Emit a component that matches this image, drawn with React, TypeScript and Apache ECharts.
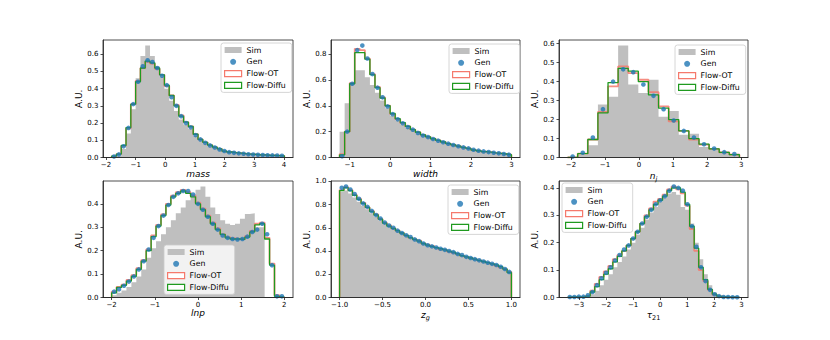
import React, { useEffect, useRef } from 'react';
import * as echarts from 'echarts';

const FONT = 'DejaVu Sans';

// ---- mass ----
const massBinStart = -1.81;
const massBinWidth = 0.1617;
const massSim = [0.005, 0.012, 0.05, 0.14, 0.28, 0.46, 0.59, 0.65, 0.59, 0.53, 0.47, 0.40, 0.33, 0.27, 0.22, 0.19, 0.165, 0.125, 0.1, 0.082, 0.066, 0.055, 0.045, 0.035, 0.03, 0.026, 0.023, 0.021, 0.019, 0.017, 0.015, 0.014, 0.012, 0.011, 0.01, 0.009];
const massGen = [0.006, 0.018, 0.065, 0.172, 0.31, 0.44, 0.53, 0.565, 0.555, 0.52, 0.475, 0.42, 0.35, 0.30, 0.24, 0.20, 0.175, 0.13, 0.105, 0.085, 0.07, 0.058, 0.047, 0.038, 0.031, 0.027, 0.024, 0.022, 0.019, 0.017, 0.016, 0.014, 0.013, 0.012, 0.011, 0.01];
const massOT = [0.007, 0.02, 0.068, 0.17, 0.31, 0.445, 0.52, 0.555, 0.545, 0.515, 0.48, 0.415, 0.36, 0.305, 0.245, 0.205, 0.18, 0.135, 0.105, 0.088, 0.072, 0.06, 0.05, 0.037, 0.032, 0.028, 0.025, 0.022, 0.02, 0.018, 0.016, 0.015, 0.013, 0.012, 0.011, 0.01];
const massDiffu = [0.008, 0.02, 0.07, 0.174, 0.31, 0.44, 0.52, 0.56, 0.55, 0.52, 0.48, 0.42, 0.36, 0.30, 0.24, 0.205, 0.18, 0.135, 0.105, 0.088, 0.072, 0.06, 0.05, 0.037, 0.032, 0.028, 0.025, 0.022, 0.02, 0.018, 0.016, 0.015, 0.013, 0.012, 0.011, 0.01];
const massXTicks = [-2, -1, 0, 1, 2, 3, 4];
const massYTicks = [0, 0.1, 0.2, 0.3, 0.4, 0.5, 0.6];

// ---- width ----
const widthBinStart = -1.25;
const widthBinWidth = 0.125;
const widthSim = [0.2, 0.42, 0.58, 0.675, 0.675, 0.62, 0.56, 0.50, 0.44, 0.38, 0.32, 0.285, 0.255, 0.228, 0.205, 0.185, 0.168, 0.152, 0.138, 0.126, 0.114, 0.103, 0.093, 0.084, 0.075, 0.067, 0.057, 0.05, 0.044, 0.039, 0.034, 0.03, 0.025, 0.02];
const widthGen = [0.01, 0.20, 0.57, 0.83, 0.865, 0.765, 0.645, 0.54, 0.465, 0.395, 0.335, 0.295, 0.265, 0.235, 0.215, 0.19, 0.17, 0.158, 0.143, 0.13, 0.118, 0.107, 0.097, 0.087, 0.078, 0.07, 0.06, 0.053, 0.047, 0.042, 0.037, 0.032, 0.027, 0.022];
const widthOT = [0.025, 0.20, 0.575, 0.84, 0.83, 0.765, 0.645, 0.545, 0.465, 0.40, 0.335, 0.295, 0.265, 0.24, 0.215, 0.195, 0.175, 0.16, 0.145, 0.133, 0.12, 0.108, 0.097, 0.088, 0.078, 0.07, 0.058, 0.052, 0.046, 0.041, 0.036, 0.032, 0.027, 0.022];
const widthDiffu = [0.02, 0.20, 0.57, 0.81, 0.81, 0.76, 0.64, 0.54, 0.46, 0.40, 0.34, 0.30, 0.27, 0.24, 0.215, 0.195, 0.175, 0.16, 0.145, 0.133, 0.12, 0.108, 0.097, 0.088, 0.078, 0.07, 0.058, 0.052, 0.046, 0.041, 0.036, 0.032, 0.027, 0.022];
const widthXTicks = [-1, 0, 1, 2, 3];
const widthYTicks = [0, 0.2, 0.4, 0.6, 0.8];

// ---- n_j ----
const njBinStart = -2.1;
const njBinWidth = 0.297;
const njSim = [0.0, 0.015, 0.065, 0.28, 0.32, 0.59, 0.385, 0.34, 0.41, 0.215, 0.245, 0.12, 0.125, 0.055, 0.05, 0.03, 0.02];
const njGen = [0.005, 0.025, 0.105, 0.255, 0.40, 0.465, 0.45, 0.385, 0.325, 0.255, 0.195, 0.14, 0.105, 0.07, 0.047, 0.028, 0.018];
const njOT = [0.002, 0.02, 0.095, 0.24, 0.375, 0.48, 0.445, 0.41, 0.345, 0.27, 0.19, 0.14, 0.095, 0.068, 0.045, 0.027, 0.015];
const njDiffu = [0.002, 0.02, 0.095, 0.235, 0.395, 0.47, 0.455, 0.40, 0.33, 0.26, 0.20, 0.14, 0.10, 0.07, 0.045, 0.027, 0.015];
const njXTicks = [-2, -1, 0, 1, 2, 3];
const njYTicks = [0, 0.1, 0.2, 0.3, 0.4, 0.5, 0.6];

// ---- lnp ----
const lnpBinStart = -2.0;
const lnpBinWidth = 0.11429;
const lnpSim = [0.01, 0.02, 0.03, 0.045, 0.065, 0.09, 0.12, 0.17, 0.21, 0.24, 0.27, 0.30, 0.33, 0.36, 0.385, 0.415, 0.44, 0.46, 0.474, 0.43, 0.385, 0.357, 0.33, 0.315, 0.31, 0.315, 0.336, 0.357, 0.36, 0.30, 0.30, 0, 0, 0, 0];
const lnpGen = [0.025, 0.035, 0.05, 0.068, 0.09, 0.12, 0.155, 0.205, 0.255, 0.305, 0.35, 0.395, 0.43, 0.445, 0.455, 0.455, 0.44, 0.40, 0.375, 0.345, 0.315, 0.29, 0.265, 0.255, 0.25, 0.248, 0.25, 0.26, 0.28, 0.29, 0.315, 0.27, 0.138, 0.005, 0.005];
const lnpOT = [0.025, 0.045, 0.055, 0.075, 0.095, 0.125, 0.16, 0.205, 0.265, 0.31, 0.355, 0.40, 0.435, 0.45, 0.46, 0.45, 0.435, 0.405, 0.38, 0.35, 0.32, 0.295, 0.27, 0.258, 0.252, 0.25, 0.25, 0.262, 0.285, 0.315, 0.32, 0.255, 0.145, 0.01, 0.003];
const lnpDiffu = [0.02, 0.043, 0.052, 0.07, 0.09, 0.12, 0.155, 0.20, 0.26, 0.305, 0.35, 0.395, 0.43, 0.445, 0.455, 0.445, 0.43, 0.40, 0.375, 0.345, 0.315, 0.29, 0.27, 0.255, 0.25, 0.25, 0.248, 0.258, 0.28, 0.31, 0.315, 0.25, 0.138, 0.005, 0.003];
const lnpXTicks = [-2, -1, 0, 1, 2];
const lnpYTicks = [0, 0.1, 0.2, 0.3, 0.4];

// ---- z_g ----
const zgBinStart = -1.0;
const zgBinWidth = 0.05;
const zgSim = [0.91, 0.92, 0.895, 0.86, 0.825, 0.79, 0.76, 0.725, 0.695, 0.665, 0.635, 0.61, 0.59, 0.57, 0.55, 0.53, 0.51, 0.495, 0.48, 0.46, 0.445, 0.435, 0.425, 0.415, 0.405, 0.395, 0.385, 0.37, 0.36, 0.345, 0.335, 0.325, 0.315, 0.305, 0.295, 0.285, 0.275, 0.26, 0.24, 0.215];
const zgGen = [0.945, 0.955, 0.93, 0.89, 0.85, 0.81, 0.78, 0.745, 0.71, 0.68, 0.645, 0.62, 0.6, 0.575, 0.555, 0.535, 0.52, 0.50, 0.485, 0.465, 0.45, 0.44, 0.43, 0.42, 0.41, 0.40, 0.39, 0.375, 0.365, 0.35, 0.34, 0.33, 0.32, 0.31, 0.30, 0.29, 0.28, 0.265, 0.245, 0.22];
const zgOT = [0.925, 0.95, 0.925, 0.885, 0.85, 0.815, 0.775, 0.745, 0.715, 0.675, 0.645, 0.62, 0.595, 0.575, 0.555, 0.535, 0.515, 0.50, 0.49, 0.465, 0.455, 0.445, 0.43, 0.415, 0.41, 0.395, 0.385, 0.375, 0.36, 0.35, 0.34, 0.33, 0.32, 0.31, 0.30, 0.29, 0.275, 0.26, 0.245, 0.22];
const zgDiffu = [0.92, 0.945, 0.92, 0.88, 0.845, 0.81, 0.775, 0.74, 0.71, 0.675, 0.64, 0.615, 0.595, 0.575, 0.555, 0.535, 0.515, 0.50, 0.485, 0.465, 0.45, 0.44, 0.43, 0.42, 0.41, 0.40, 0.39, 0.375, 0.36, 0.35, 0.34, 0.33, 0.32, 0.31, 0.30, 0.29, 0.28, 0.265, 0.245, 0.215];
const zgXTicks = [-1, -0.5, 0, 0.5, 1];
const zgYTicks = [0, 0.2, 0.4, 0.6, 0.8, 1.0];

// ---- tau21 ----
const tauBinStart = -3.42;
const tauBinWidth = 0.167;
const tauSim = [0.001, 0.001, 0.001, 0.002, 0.003, 0.012, 0.025, 0.045, 0.065, 0.085, 0.11, 0.13, 0.15, 0.175, 0.2, 0.23, 0.255, 0.285, 0.31, 0.33, 0.35, 0.365, 0.38, 0.385, 0.375, 0.33, 0.32, 0.27, 0.2, 0.14, 0.085, 0.045, 0.018, 0.007, 0.003, 0.001, 0.001, 0.0];
const tauGen = [0.002, 0.002, 0.003, 0.003, 0.008, 0.02, 0.045, 0.07, 0.09, 0.11, 0.135, 0.155, 0.175, 0.19, 0.215, 0.24, 0.27, 0.295, 0.32, 0.34, 0.355, 0.37, 0.39, 0.405, 0.40, 0.39, 0.34, 0.26, 0.185, 0.11, 0.06, 0.028, 0.012, 0.005, 0.002, 0.002, 0.001, 0.001];
const tauOT = [0.002, 0.002, 0.002, 0.002, 0.006, 0.025, 0.05, 0.075, 0.095, 0.115, 0.14, 0.155, 0.17, 0.19, 0.215, 0.24, 0.27, 0.30, 0.325, 0.35, 0.36, 0.375, 0.395, 0.405, 0.395, 0.38, 0.335, 0.25, 0.17, 0.10, 0.06, 0.028, 0.01, 0.004, 0.002, 0.001, 0.001, 0.0];
const tauDiffu = [0.002, 0.002, 0.002, 0.002, 0.005, 0.02, 0.04, 0.065, 0.085, 0.105, 0.13, 0.15, 0.17, 0.19, 0.215, 0.24, 0.27, 0.295, 0.32, 0.34, 0.355, 0.37, 0.39, 0.40, 0.40, 0.385, 0.34, 0.26, 0.18, 0.11, 0.065, 0.03, 0.012, 0.005, 0.002, 0.001, 0.001, 0.0];
const tauXTicks = [-3, -2, -1, 0, 1, 2, 3];
const tauYTicks = [0, 0.1, 0.2, 0.3, 0.4];

const xLabels = ['{i|mass}', '{i|width}', '{i|n}{s|j}', '{i|lnp}', '{i|z}{s|g}', '{i|τ}{n|21}'];

const panels = [
  { start: massBinStart, width: massBinWidth, sim: massSim, gen: massGen, ot: massOT, diffu: massDiffu, xTicks: massXTicks, yTicks: massYTicks, dec: 0 },
  { start: widthBinStart, width: widthBinWidth, sim: widthSim, gen: widthGen, ot: widthOT, diffu: widthDiffu, xTicks: widthXTicks, yTicks: widthYTicks, dec: 0 },
  { start: njBinStart, width: njBinWidth, sim: njSim, gen: njGen, ot: njOT, diffu: njDiffu, xTicks: njXTicks, yTicks: njYTicks, dec: 0 },
  { start: lnpBinStart, width: lnpBinWidth, sim: lnpSim, gen: lnpGen, ot: lnpOT, diffu: lnpDiffu, xTicks: lnpXTicks, yTicks: lnpYTicks, dec: 0 },
  { start: zgBinStart, width: zgBinWidth, sim: zgSim, gen: zgGen, ot: zgOT, diffu: zgDiffu, xTicks: zgXTicks, yTicks: zgYTicks, dec: 1 },
  { start: tauBinStart, width: tauBinWidth, sim: tauSim, gen: tauGen, ot: tauOT, diffu: tauDiffu, xTicks: tauXTicks, yTicks: tauYTicks, dec: 0 },
];

// layout (pixels)
const gridBoxes = [
  { left: 103, top: 40, width: 190, height: 117.5 },
  { left: 331, top: 40, width: 189, height: 117.5 },
  { left: 559, top: 40, width: 189, height: 117.5 },
  { left: 103, top: 181, width: 190, height: 116.5 },
  { left: 331, top: 181, width: 189, height: 116.5 },
  { left: 559, top: 181, width: 189, height: 116.5 },
];
const legendPos = [
  { left: 221, top: 43 },
  { left: 449, top: 44 },
  { left: 675, top: 45 },
  { left: 164, top: 245 },
  { left: 448, top: 185 },
  { left: 562, top: 183 },
];

const SIM_COLOR = '#bfbfbf';
const GEN_COLOR = '#1f77b4';
const OT_COLOR = '#f5796c';
const DIFFU_COLOR = '#1f9a1f';

function stepPoints(start: number, width: number, vals: number[]) {
  const pts: number[][] = [[start, 0]];
  vals.forEach((v, i) => {
    pts.push([start + i * width, v]);
    pts.push([start + (i + 1) * width, v]);
  });
  pts.push([start + vals.length * width, 0]);
  return pts;
}
function centers(start: number, width: number, vals: number[]) {
  return vals.map((v, i) => [start + (i + 0.5) * width, v]);
}
function fmtNum(v: number, dec: number) {
  const s = Math.abs(v).toFixed(dec);
  return (v < -1e-9 ? '\u2212' : '') + s;
}

function buildOption() {
  const grid: any[] = [];
  const xAxis: any[] = [];
  const yAxis: any[] = [];
  const series: any[] = [];
  const legend: any[] = [];
  const rich = {
    i: { fontStyle: 'italic', fontSize: 9, fontFamily: FONT, color: '#000' },
    s: { fontStyle: 'italic', fontSize: 6.5, fontFamily: FONT, color: '#000', padding: [6, 0, 0, 0] },
    n: { fontSize: 6.5, fontFamily: FONT, color: '#000', padding: [6, 0, 0, 0] },
  };
  panels.forEach((p, k) => {
    const n = p.sim.length;
    const range = n * p.width;
    const xMin = p.start - 0.05 * range;
    const xMax = p.start + range + 0.05 * range;
    const yMax = 1.05 * Math.max(...p.sim, ...p.gen, ...p.ot, ...p.diffu);
    grid.push({ ...gridBoxes[k], show: true, borderColor: '#222', borderWidth: 0.8, backgroundColor: 'transparent', containLabel: false });
    xAxis.push({
      type: 'value', gridIndex: k, min: xMin, max: xMax, z: 10,
      name: xLabels[k], nameLocation: 'middle', nameGap: k < 3 ? 12 : 11,
      nameTextStyle: { rich },
      axisLine: { show: true, onZero: false, lineStyle: { color: '#222', width: 0.8 } },
      axisTick: { show: true, length: 2.5, customValues: p.xTicks, lineStyle: { color: '#222', width: 0.8 } },
      axisLabel: { customValues: p.xTicks, formatter: (v: number) => fmtNum(v, p.dec), fontSize: 7, fontFamily: FONT, color: '#000', margin: 3.5 },
      splitLine: { show: false },
    });
    yAxis.push({
      type: 'value', gridIndex: k, min: 0, max: yMax, z: 10,
      name: 'A.U.', nameLocation: 'middle', nameGap: 18, nameRotate: 90,
      nameTextStyle: { fontSize: 9, fontFamily: FONT, color: '#000' },
      axisLine: { show: true, onZero: false, lineStyle: { color: '#222', width: 0.8 } },
      axisTick: { show: true, length: 2.5, customValues: p.yTicks, lineStyle: { color: '#222', width: 0.8 } },
      axisLabel: { customValues: p.yTicks, formatter: (v: number) => v.toFixed(1), fontSize: 7, fontFamily: FONT, color: '#000', margin: 4.5 },
      splitLine: { show: false },
    });
    series.push({
      name: 'Sim', type: 'line', xAxisIndex: k, yAxisIndex: k, data: stepPoints(p.start, p.width, p.sim),
      symbol: 'none', lineStyle: { width: 0, color: SIM_COLOR }, itemStyle: { color: SIM_COLOR },
      areaStyle: { color: SIM_COLOR, opacity: 1, origin: 'start' }, silent: true, z: 2,
    });
    series.push({
      name: 'Flow-OT', type: 'line', xAxisIndex: k, yAxisIndex: k, data: stepPoints(p.start, p.width, p.ot),
      symbol: 'none', lineStyle: { width: 1.8, color: OT_COLOR, opacity: 0.85 }, itemStyle: { color: OT_COLOR }, silent: true, z: 3,
    });
    series.push({
      name: 'Flow-Diffu', type: 'line', xAxisIndex: k, yAxisIndex: k, data: stepPoints(p.start, p.width, p.diffu),
      symbol: 'none', lineStyle: { width: 1.3, color: DIFFU_COLOR }, itemStyle: { color: DIFFU_COLOR }, silent: true, z: 4,
    });
    series.push({
      name: 'Gen', type: 'scatter', xAxisIndex: k, yAxisIndex: k, data: centers(p.start, p.width, p.gen),
      symbol: 'circle', symbolSize: 4.6, itemStyle: { color: GEN_COLOR }, silent: true, z: 5,
    });
    legend.push({
      ...legendPos[k], orient: 'vertical', selectedMode: false, z: 20,
      itemWidth: 17, itemHeight: 6, itemGap: 3.8,
      padding: [3, 6, 3, 3],
      backgroundColor: 'rgba(255,255,255,0.8)', borderColor: '#cccccc', borderWidth: 0.8, borderRadius: 2.5,
      textStyle: { fontSize: 7.8, fontFamily: FONT, color: '#000', lineHeight: 8 },
      data: [
        { name: 'Sim', icon: 'rect', itemStyle: { color: SIM_COLOR, borderWidth: 0 } },
        { name: 'Gen', icon: 'circle', itemStyle: { color: GEN_COLOR, borderWidth: 0 } },
        { name: 'Flow-OT', icon: 'rect', itemStyle: { color: '#ffffff', borderColor: OT_COLOR, borderWidth: 1.2 } },
        { name: 'Flow-Diffu', icon: 'rect', itemStyle: { color: '#ffffff', borderColor: DIFFU_COLOR, borderWidth: 1.2 } },
      ],
    });
  });
  return {
    animation: false,
    backgroundColor: '#ffffff',
    textStyle: { fontFamily: FONT },
    grid, xAxis, yAxis, series, legend,
  };
}

export default function App() {
  const ref = useRef<HTMLDivElement>(null);
  useEffect(() => {
    if (!ref.current) return;
    const chart = echarts.init(ref.current, undefined, { renderer: 'svg' });
    chart.setOption(buildOption() as any);
    return () => chart.dispose();
  }, []);
  return <div ref={ref} style={{ position: 'absolute', left: 0, top: 0, width: 830, height: 340, background: '#fff' }} />;
}
